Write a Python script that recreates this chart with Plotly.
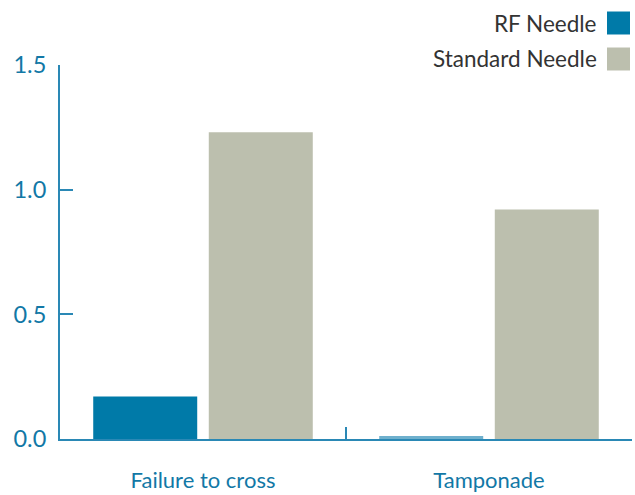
import plotly.graph_objects as go

categories = ["Failure to cross", "Tamponade"]
rf_values = [0.17, 0.012]
std_values = [1.23, 0.92]
series_names = ["RF Needle", "Standard Needle"]
y_ticks = [0.0, 0.5, 1.0, 1.5]
y_tick_labels = ["0.0", "0.5", "1.0", "1.5"]

BLUE = "#007aa8"
GREY = "#bcbfae"
AXIS = "#2a88b5"
TXT = "#1278a6"
FONT = "Lato"

fig = go.Figure()
fig.add_trace(go.Bar(x=categories, y=rf_values, name=series_names[0],
                     marker=dict(color=[BLUE, "#6fb0cd"], line=dict(width=0)),
                     showlegend=False, hoverinfo="skip"))
fig.add_trace(go.Bar(x=categories, y=std_values, name=series_names[1],
                     marker=dict(color=GREY, line=dict(width=0)),
                     showlegend=False, hoverinfo="skip"))

fig.update_layout(
    width=635, height=495,
    margin=dict(l=60, r=3, t=65, b=56, autoexpand=False),
    paper_bgcolor="white", plot_bgcolor="white",
    barmode="group", bargap=0.192, bargroupgap=0.1,
    font=dict(family=FONT, color=TXT),
)
fig.update_xaxes(
    showline=True, linecolor=AXIS, linewidth=2, automargin=False,
    ticks="inside", tickson="boundaries", ticklen=12, tickcolor=AXIS, tickwidth=2,
    tickfont=dict(size=22, color=TXT, family=FONT),
    showgrid=False, zeroline=False, ticklabelstandoff=21,
)
fig.update_yaxes(
    range=[0, 1.5], tickvals=y_ticks, ticktext=y_tick_labels,
    showline=True, linecolor=AXIS, linewidth=2, automargin=False,
    ticks="inside", ticklen=13, tickcolor=AXIS, tickwidth=2,
    tickfont=dict(size=23.5, color=TXT, family=FONT),
    showgrid=False, zeroline=False, ticklabelstandoff=7,
)

# legend: text left of swatch
legend_colors = [BLUE, GREY]
legend_y = [23, 59]
for name, col, yc in zip(series_names, legend_colors, legend_y):
    fig.add_shape(type="rect", xref="paper", yref="paper",
                  x0=(607 - 60) / 572, x1=(630 - 60) / 572,
                  y0=(439 - (yc + 11.5)) / 374, y1=(439 - (yc - 11.5)) / 374,
                  fillcolor=col, line=dict(width=0))
    fig.add_annotation(text=name, xref="paper", yref="paper",
                       x=(599 - 60) / 572, y=(439 - yc) / 374,
                       xanchor="right", yanchor="middle", showarrow=False,
                       font=dict(size=22.5, color="#333333", family=FONT))

fig.write_html("out.html", config={"displayModeBar": False, "staticPlot": True},
               post_script="document.body.style.margin='0';document.body.style.overflow='hidden';")
